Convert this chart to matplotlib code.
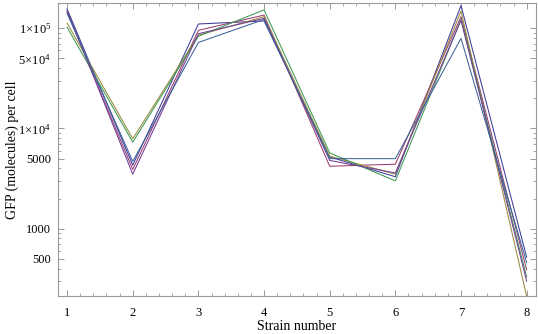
import matplotlib
matplotlib.use("Agg")
import matplotlib.pyplot as plt
from matplotlib.ticker import FixedLocator, FixedFormatter
import numpy as np

strains = [1, 2, 3, 4, 5, 6, 7, 8]
s_darkblue = [1.55e5, 4300, 1.10e5, 1.18e5, 5200, 3300, 1.68e5, 520]
s_magenta = [1.45e5, 3900, 9.5e4, 1.35e5, 4200, 4400, 1.30e5, 390]
s_mustard = [1.12e5, 7900, 8.5e4, 1.30e5, 5300, 3500, 1.48e5, 212]
s_green = [1.02e5, 7300, 8.3e4, 1.52e5, 5700, 3000, 1.22e5, 330]
s_purple = [1.50e5, 3500, 8.8e4, 1.25e5, 4800, 3600, 1.20e5, 300]
s_blue = [1.40e5, 4700, 7.2e4, 1.22e5, 5000, 5000, 7.9e4, 460]

series = [s_darkblue, s_magenta, s_mustard, s_green, s_purple, s_blue]
colors = ["#3d3d99", "#993d71", "#998b3d", "#3d9954", "#723d99", "#3d6399"]

ytick_vals = [500, 1000, 5000, 1e4, 5e4, 1e5]
ytick_labels = ["500", "1000", "5000", r"$1\!\times\!10^{4}$", r"$5\!\times\!10^{4}$", r"$1\!\times\!10^{5}$"]

plt.rcParams['font.family'] = ['Liberation Serif', 'DejaVu Serif']
plt.rcParams['mathtext.fontset'] = 'custom'
plt.rcParams['mathtext.rm'] = 'Liberation Serif'
plt.rcParams['mathtext.it'] = 'Liberation Serif:italic'

fig = plt.figure(figsize=(5.38, 3.34), dpi=100)
ax = fig.add_axes([0.108, 0.114, 0.888, 0.877])

for s, c in zip(series, colors):
    ax.plot(strains, s, color=c, lw=0.75)

ax.set_yscale('log')
ax.set_xlim(0.863, 8.14)
ax.set_ylim(214, 1.78e5)

ax.xaxis.set_major_locator(FixedLocator(strains))
ax.xaxis.set_major_formatter(FixedFormatter([str(v) for v in strains]))
ax.xaxis.set_minor_locator(FixedLocator(np.arange(0.8, 8.3, 0.2)))

ax.yaxis.set_major_locator(FixedLocator(ytick_vals))
ax.yaxis.set_major_formatter(FixedFormatter(ytick_labels))
minor = []
for dec in [100, 1000, 10000, 100000]:
    for m in range(1, 10):
        v = m * dec
        if v not in ytick_vals:
            minor.append(v)
ax.yaxis.set_minor_locator(FixedLocator(minor))
ax.yaxis.set_minor_formatter(FixedFormatter([""] * len(minor)))

gray = "#999999"
for sp in ax.spines.values():
    sp.set_color(gray)
    sp.set_linewidth(0.8)
ax.tick_params(which='both', direction='in', top=True, right=True, colors=gray,
               labelcolor='black', labelsize=9)
ax.tick_params(which='major', length=4, width=0.7, pad=5)
ax.tick_params(axis='x', which='major', pad=8)
ax.tick_params(which='minor', length=2, width=0.6)

ax.set_xlabel("Strain number", fontsize=10)
ax.set_ylabel("GFP (molecules) per cell", fontsize=10)
ax.xaxis.set_label_coords(0.5, -0.106)
ax.yaxis.set_label_coords(-0.095, 0.5)
ax.xaxis.label.set_va('center')
ax.yaxis.label.set_va('center')

fig.savefig("out.png", dpi=100)
